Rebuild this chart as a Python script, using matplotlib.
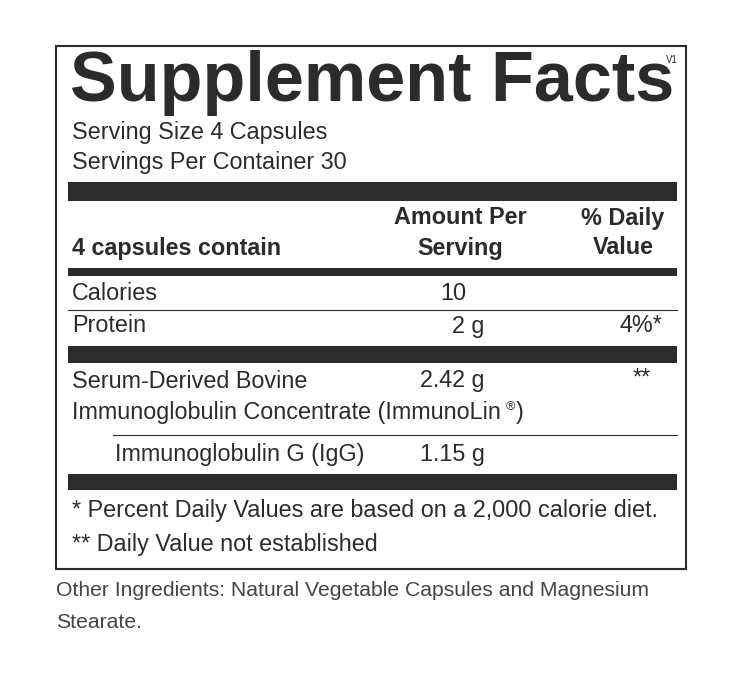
import matplotlib
matplotlib.use("Agg")
import matplotlib.pyplot as plt
from matplotlib.patches import Rectangle

title = "Supplement Facts"
serving = ["Serving Size 4 Capsules", "Servings Per Container 30"]
rows = [("Calories", "10", ""), ("Protein", "2 g", "4%*")]
blend_name = ["Serum-Derived Bovine", "Immunoglobulin Concentrate (ImmunoLin", ")"]
blend_amt = "2.42 g"
blend_dv = "**"
sub_name = "Immunoglobulin G (IgG)"
sub_amt = "1.15 g"
footnotes = ["* Percent Daily Values are based on a 2,000 calorie diet.", "** Daily Value not established"]
other = ["Other Ingredients: Natural Vegetable Capsules and Magnesium", "Stearate."]

plt.rcParams['font.family'] = ['Liberation Sans', 'DejaVu Sans']
fig = plt.figure(figsize=(7.38, 6.74), dpi=100)
ax = fig.add_axes([0, 0, 1, 1])
ax.set_xlim(0, 738); ax.set_ylim(674, 0); ax.axis('off')
dark = '#2b2b2b'
fs = 16.8
ax.add_patch(Rectangle((56, 46), 630, 523, fill=False, ec=dark, lw=1.5))
ax.text(70, 101, title, fontsize=50.5, fontweight='bold', color=dark, va='baseline')
ax.text(666, 63, "V1", fontsize=7, color=dark, va='baseline')
def t(x, y, s, ha='left', bold=False, color=dark, size=fs):
    return ax.text(x, y, s, ha=ha, va='center', fontsize=size, color=color, fontweight='bold' if bold else 'normal')
def bar(y0, y1, x0=68, x1=677):
    ax.add_patch(Rectangle((x0, y0), x1 - x0, y1 - y0, color=dark, lw=0))
t(72, 132, serving[0]); t(72, 163, serving[1])
bar(182, 201)
t(460, 218, "Amount Per", 'center', True); t(460, 248, "Serving", 'center', True)
t(623, 218, "% Daily", 'center', True); t(623, 248, "Value", 'center', True)
t(72, 248, "4 capsules contain", bold=True)
bar(268, 276)
t(72, 294, rows[0][0]); t(440, 294, rows[0][1])
ax.plot([68, 677], [310, 310], color=dark, lw=0.8)
t(72, 326, rows[1][0]); t(484, 326, rows[1][1], 'right'); t(662, 326, rows[1][2], 'right')
bar(346, 363)
t(72, 381, blend_name[0]); t(420, 381, blend_amt); t(651, 378, blend_dv, 'right')
t(72, 413, blend_name[1]); t(506, 407, "®", size=9); t(516, 413, blend_name[2])
ax.plot([113, 677], [435, 435], color=dark, lw=0.8)
t(115, 454, sub_name); t(420, 454, sub_amt)
bar(474, 490)
t(72, 511, footnotes[0]); t(72, 544, footnotes[1])
t(56, 590, other[0], color='#444444', size=15.2); t(56, 622, other[1], color='#444444', size=15.2)
fig.savefig("out.png", dpi=100, facecolor='white')
